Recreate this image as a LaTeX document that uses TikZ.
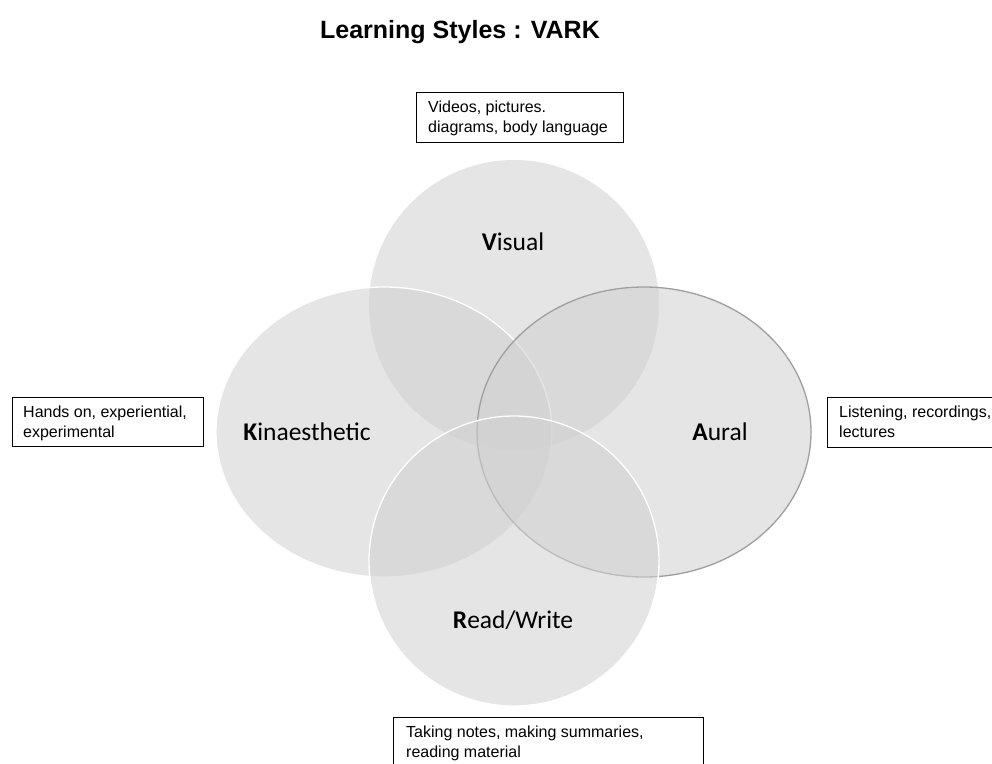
\documentclass[tikz,border=0pt]{standalone}
\usepackage{fontspec}
\setmainfont{Liberation Sans}
\newfontfamily\calibri{Carlito}

\tikzset{
    vennfill/.style={fill=black!18, fill opacity=0.56, line width=1.3pt},
    infobox/.style={draw, line width=0.9pt, inner sep=0pt, anchor=north west},
    infotext/.style={anchor=north west, align=left, inner sep=0pt,
        font=\fontsize{16}{19.5}\selectfont},
    vennlabel/.style={font=\calibri\fontsize{25.5}{30}\selectfont}
}

\begin{document}
\begin{tikzpicture}[x=1pt, y=-1pt]
\clip (0,0) rectangle (992,763);
\fill[white] (0,0) rectangle (992,763);

% Title
\node[font=\bfseries\fontsize{25}{30}\selectfont] (title) at (460,32) {Learning Styles : VARK};

% Overlapping circles (V, K, A, R)
\foreach \cx/\cy/\rx/\edge in {514/305/145/none, 384/432/168/white, 644/432/167/gray!75, 514/561/145/white} {
    \path[vennfill, draw=\edge] (\cx,\cy) ellipse[x radius=\rx, y radius=145];
}

% Circle names
\node[vennlabel] (vis)  at (513,242) {\textbf{V}isual};
\node[vennlabel] (kin)  at (307,432) {\textbf{K}inaesthetic};
\node[vennlabel] (aur)  at (720,432) {\textbf{A}ural};
\node[vennlabel] (rw)   at (513,620) {\textbf{R}ead/Write};

% Description boxes
\node[infobox, minimum width=207pt, minimum height=50pt] (visbox) at (416,92) {};
\node[infotext] (vistext) at ([xshift=12pt, yshift=-9pt]visbox.north west)
    {Videos, pictures.\\diagrams, body language};

\node[infobox, minimum width=191pt, minimum height=49pt] (kinbox) at (12,397) {};
\node[infotext] (kintext) at ([xshift=11pt, yshift=-9pt]kinbox.north west)
    {Hands on, experiential,\\experimental};

\node[infobox, minimum width=191pt, minimum height=50pt] (aurbox) at (827,397) {};
\node[infotext] (aurtext) at ([xshift=12pt, yshift=-9pt]aurbox.north west)
    {Listening, recordings,\\lectures};

\node[infobox, minimum width=310pt, minimum height=50pt] (rwbox) at (393,717) {};
\node[infotext] (rwtext) at ([xshift=13pt, yshift=-9pt]rwbox.north west)
    {Taking notes, making summaries,\\reading material};
\end{tikzpicture}
\end{document}
